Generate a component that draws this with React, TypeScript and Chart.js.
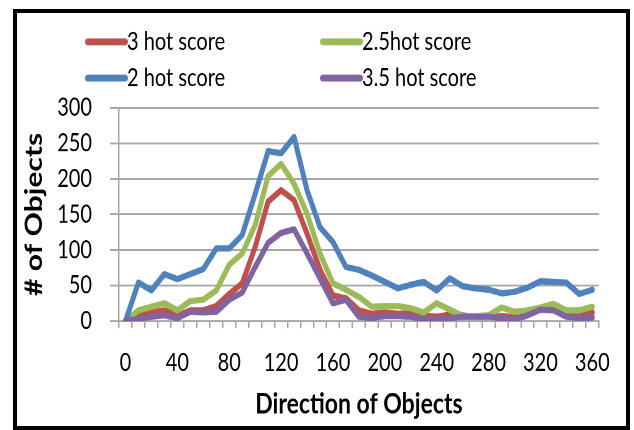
import React, { useEffect, useRef } from 'react';
import { Chart, registerables } from 'chart.js';

Chart.register(...registerables);

// ---- data ----
const directions: string[] = [
  '0', '10', '20', '30', '40', '50', '60', '70', '80', '90',
  '100', '110', '120', '130', '140', '150', '160', '170', '180', '190',
  '200', '210', '220', '230', '240', '250', '260', '270', '280', '290',
  '300', '310', '320', '330', '340', '350', '360',
];
const labelEvery = 4;

const hot3: number[] = [
  0, 6, 12, 15, 7, 15, 15, 21, 38, 53,
  104, 168, 184, 170, 123, 72, 36, 32, 15, 10,
  12, 10, 11, 8, 6, 9, 8, 6, 7, 7,
  5, 12, 16, 17, 10, 8, 12,
];
const hot25: number[] = [
  0, 15, 20, 25, 15, 28, 30, 43, 79, 95,
  135, 204, 221, 193, 151, 95, 53, 44, 34, 20,
  21, 21, 18, 12, 25, 16, 7, 7, 8, 19,
  13, 15, 19, 24, 15, 15, 20,
];
const hot2: number[] = [
  0, 54, 43, 66, 59, 66, 73, 102, 102, 121,
  179, 239, 236, 259, 184, 132, 111, 76, 72, 64,
  55, 46, 51, 55, 43, 60, 49, 46, 44, 39,
  41, 47, 56, 55, 54, 38, 44,
];
const hot35: number[] = [
  0, 3, 6, 8, 4, 13, 12, 13, 30, 40,
  76, 110, 124, 129, 95, 60, 25, 30, 6, 4,
  7, 7, 6, 2, 2, 4, 6, 6, 6, 4,
  2, 8, 16, 15, 6, 4, 5,
];
const seriesNames: string[] = ['3 hot score', '2.5hot score', '2 hot score', '3.5 hot score'];
const seriesColors: string[] = ['#C0504D', '#9BBB59', '#4F81BD', '#8064A2'];
const yMin = 0;
const yMax = 300;
const yStep = 50;
const xTitle = 'Direction of Objects';
const yTitle = '# of Objects';

// ---- layout ----
const W = 609;
const H = 330;
const CSS_H = 413;
const FONT = 'Lato, "Open Sans", "Liberation Sans", sans-serif';

const gridLegend = {
  id: 'gridLegend',
  afterDraw(chart: any, _args: any, opts: any) {
    const ctx = chart.ctx as CanvasRenderingContext2D;
    ctx.save();
    chart.data.datasets.forEach((ds: any, i: number) => {
      const col = i % 2;
      const row = Math.floor(i / 2);
      const x = opts.cols[col];
      const y = opts.rows[row];
      const lw = opts.lineWidth;
      ctx.strokeStyle = ds.borderColor;
      ctx.lineWidth = lw;
      ctx.lineCap = 'round';
      ctx.beginPath();
      ctx.moveTo(x + lw / 2, y);
      ctx.lineTo(x + opts.lineLen - lw / 2, y);
      ctx.stroke();
      ctx.fillStyle = '#000';
      ctx.font = `${opts.fontSize}px ${FONT}`;
      ctx.textBaseline = 'middle';
      ctx.textAlign = 'left';
      ctx.fillText(ds.label, x + opts.lineLen - 1, y);
    });
    ctx.restore();
  },
};

export default function App() {
  const ref = useRef<HTMLCanvasElement | null>(null);

  useEffect(() => {
    if (!ref.current) return;
    const series = [hot3, hot25, hot2, hot35];
    const drawOrder = [4, 3, 2, 1];
    const chart = new Chart(ref.current, {
      type: 'line',
      data: {
        labels: directions,
        datasets: series.map((d, i) => ({
          label: seriesNames[i],
          data: d,
          borderColor: seriesColors[i],
          backgroundColor: seriesColors[i],
          borderWidth: 5,
          pointRadius: 0,
          tension: 0,
          fill: false,
          borderJoinStyle: 'round' as const,
          borderCapStyle: 'round' as const,
          order: drawOrder[i],
        })),
      },
      options: {
        responsive: false,
        devicePixelRatio: 2,
        animation: false,
        layout: { padding: { top: 75.7, right: 20, bottom: 3.8, left: 0 } },
        plugins: {
          legend: { display: false },
          tooltip: { enabled: false },
          gridLegend: {
            cols: [68, 303],
            rows: [23, 52],
            lineLen: 43,
            lineWidth: 5.6,
            fontSize: 20,
          },
        } as any,
        scales: {
          x: {
            type: 'category',
            offset: true,
            grid: {
              offset: true,
              drawOnChartArea: false,
              drawTicks: true,
              tickLength: 5.6,
              color: '#a6a6a6',
              lineWidth: 1.5,
            },
            border: { color: '#a6a6a6', width: 1.5 },
            ticks: {
              autoSkip: false,
              maxRotation: 0,
              minRotation: 0,
              padding: 16,
              color: '#000',
              font: { family: FONT, size: 20 },
              callback: (_v: any, i: number) => (i % labelEvery === 0 ? directions[i] : ''),
            },
            title: {
              display: true,
              text: xTitle,
              color: '#000',
              font: { family: FONT, size: 23, weight: 'bold' },
              padding: { top: -9.1, bottom: 0 },
            },
          },
          y: {
            min: yMin,
            max: yMax,
            ticks: {
              stepSize: yStep,
              autoSkip: false,
              padding: 18,
              color: '#000',
              font: { family: FONT, size: 20 },
            },
            grid: { color: '#a6a6a6', lineWidth: 1.5, tickLength: 9, drawTicks: true },
            border: { color: '#a6a6a6', width: 1.5 },
            title: {
              display: true,
              text: yTitle,
              color: '#000',
              font: { family: FONT, size: 24, weight: 'bold' },
              padding: { top: 2.7, bottom: -9.3 },
            },
          },
        },
      },
      plugins: [gridLegend],
    });
    return () => chart.destroy();
  }, []);

  return (
    <div
      style={{
        position: 'absolute',
        left: 13,
        top: 9,
        width: 617,
        height: 421,
        border: '4px solid #000',
        boxSizing: 'border-box',
        background: '#fff',
      }}
    >
      <canvas
        ref={ref}
        width={W}
        height={H}
        style={{ display: 'block', width: `${W}px`, height: `${CSS_H}px` }}
      />
    </div>
  );
}
